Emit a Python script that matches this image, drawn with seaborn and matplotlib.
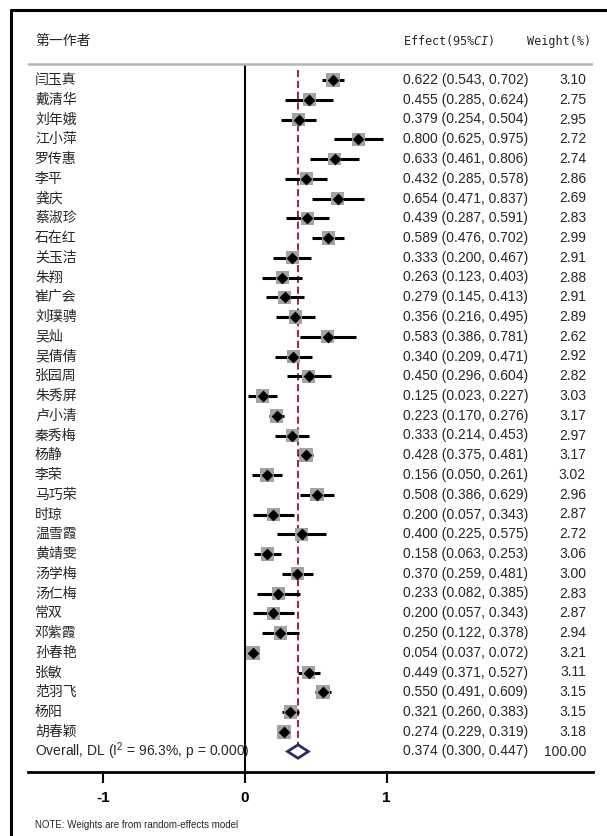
import matplotlib
matplotlib.use("Agg")
import matplotlib.pyplot as plt
from matplotlib.lines import Line2D
from matplotlib.patches import Polygon
import pandas as pd
import seaborn as sns


# study data
authors = ["闫玉真", "戴清华", "刘年娥", "江小萍", "罗传惠", "李平", "龚庆", "蔡淑珍",
           "石在红", "关玉洁", "朱翔", "崔广会", "刘璞骋", "吴灿", "吴倩倩", "张园周",
           "朱秀屏", "卢小清", "秦秀梅", "杨静", "李荣", "马巧荣", "时琼", "温雪霞",
           "黄靖雯", "汤学梅", "汤仁梅", "常双", "邓紫霞", "孙春艳", "张敏", "范羽飞",
           "杨阳", "胡春颖"]
effect = [0.622, 0.455, 0.379, 0.800, 0.633, 0.432, 0.654, 0.439, 0.589, 0.333,
          0.263, 0.279, 0.356, 0.583, 0.340, 0.450, 0.125, 0.223, 0.333, 0.428,
          0.156, 0.508, 0.200, 0.400, 0.158, 0.370, 0.233, 0.200, 0.250, 0.054,
          0.449, 0.550, 0.321, 0.274]
ci_low = [0.543, 0.285, 0.254, 0.625, 0.461, 0.285, 0.471, 0.287, 0.476, 0.200,
          0.123, 0.145, 0.216, 0.386, 0.209, 0.296, 0.023, 0.170, 0.214, 0.375,
          0.050, 0.386, 0.057, 0.225, 0.063, 0.259, 0.082, 0.057, 0.122, 0.037,
          0.371, 0.491, 0.260, 0.229]
ci_high = [0.702, 0.624, 0.504, 0.975, 0.806, 0.578, 0.837, 0.591, 0.702, 0.467,
           0.403, 0.413, 0.495, 0.781, 0.471, 0.604, 0.227, 0.276, 0.453, 0.481,
           0.261, 0.629, 0.343, 0.575, 0.253, 0.481, 0.385, 0.343, 0.378, 0.072,
           0.527, 0.609, 0.383, 0.319]
weight = [3.10, 2.75, 2.95, 2.72, 2.74, 2.86, 2.69, 2.83, 2.99, 2.91,
          2.88, 2.91, 2.89, 2.62, 2.92, 2.82, 3.03, 3.17, 2.97, 3.17,
          3.02, 2.96, 2.87, 2.72, 3.06, 3.00, 2.83, 2.87, 2.94, 3.21,
          3.11, 3.15, 3.15, 3.18]

overall_est = 0.374
overall_low = 0.300
overall_high = 0.447
overall_weight = 100.00
i_squared = 96.3
p_value = 0.000
x_ticks = [-1, 0, 1]

df = pd.DataFrame({"author": authors, "effect": effect, "lo": ci_low,
                   "hi": ci_high, "weight": weight})
df["row"] = range(len(df))
overall_row = len(df)

sns.set_style("white")
plt.rcParams["font.family"] = ["Liberation Sans", "Noto Sans CJK SC", "DejaVu Sans"]
plt.rcParams["mathtext.fontset"] = "custom"
plt.rcParams["mathtext.rm"] = "Liberation Sans"
plt.rcParams["mathtext.it"] = "DejaVu Sans Mono:italic"

# layout in pixels of the 607x836 image
W, H = 607, 836
ROW0, PITCH = 80, 19.75
AX_L, AX_R, AX_T, AX_B = 28, 593, 20, 772


def row_of(py):
    return (py - ROW0) / PITCH


def xfrac(px):
    return (px - AX_L) / (AX_R - AX_L)


fig = plt.figure(figsize=(W / 100, H / 100), dpi=100)
ax = fig.add_axes([AX_L / W, 1 - AX_B / H, (AX_R - AX_L) / W, (AX_B - AX_T) / H])
ax.set_xlim((AX_L - 245) / 141.7, (AX_R - 245) / 141.7)
ax.set_ylim(row_of(AX_B), row_of(AX_T))

# confidence intervals
ax.hlines(df["row"], df["lo"], df["hi"], color="black", lw=2.2, zorder=2)

# weight boxes (area ~ weight)
k = 31.0
sns.scatterplot(data=df, x="effect", y="row", size="weight",
                sizes=(k * min(weight), k * max(weight)),
                size_norm=(min(weight), max(weight)),
                marker="s", color="#a3a3a3", linewidth=0, legend=False,
                ax=ax, zorder=3)
# point estimates
sns.scatterplot(data=df, x="effect", y="row", marker="D", s=36,
                color="black", linewidth=0, legend=False, ax=ax, zorder=4)

# pooled estimate diamond
dh = 0.34
ax.add_patch(Polygon([(overall_low, overall_row), (overall_est, overall_row - dh),
                      (overall_high, overall_row), (overall_est, overall_row + dh)],
                     closed=True, fill=False, edgecolor="#2e2a6b", lw=2, zorder=5))

# reference lines
ax.vlines(overall_est, row_of(70), overall_row - dh, color="#9b2d3f",
          lw=1.5, ls=(0, (3.4, 1.8)), zorder=1)
ax.vlines(0, row_of(64), row_of(AX_B), color="black", lw=1.5, zorder=1)
ax.axhline(row_of(64), color="#b5b5b5", lw=1.8)

# axis styling
for side in ["left", "top", "right"]:
    ax.spines[side].set_visible(False)
ax.spines["bottom"].set_linewidth(2)
ax.spines["bottom"].set_color("black")
ax.set_xticks(x_ticks)
ax.set_xticklabels([str(t) for t in x_ticks], fontweight="bold")
ax.set_yticks([])
ax.tick_params(axis="x", direction="out", length=8, width=1.5, pad=6,
               labelsize=11, colors="black", bottom=True)
ax.set_xlabel("")
ax.set_ylabel("")

# table text
tr = ax.get_yaxis_transform()
cjk = ["Noto Sans CJK SC", "DejaVu Sans"]
ax.text(xfrac(35), row_of(41), "第一作者", transform=tr, family=cjk,
        fontsize=10, va="center", ha="left")
ax.text(xfrac(403), row_of(41), r"Effect(95%$\mathit{CI}$)", transform=tr,
        family="DejaVu Sans Mono", fontsize=8.5, va="center", ha="left")
ax.text(xfrac(591), row_of(41), "Weight(%)", transform=tr,
        family="DejaVu Sans Mono", fontsize=8.5, va="center", ha="right")

for _, r in df.iterrows():
    ax.text(xfrac(35), r["row"], r["author"], transform=tr, family=cjk,
            fontsize=10, fontweight="medium", va="center", ha="left")
    ax.text(xfrac(403), r["row"], f"{r['effect']:.3f} ({r['lo']:.3f}, {r['hi']:.3f})",
            transform=tr, fontsize=10, va="center", ha="left")
    ax.text(xfrac(586), r["row"], f"{r['weight']:.2f}", transform=tr,
            fontsize=10, va="center", ha="right")

ax.text(xfrac(35), overall_row,
        rf"Overall, DL (I$^2$ = {i_squared:.1f}%, p = {p_value:.3f})",
        transform=tr, fontsize=10, va="center", ha="left")
ax.text(xfrac(403), overall_row,
        f"{overall_est:.3f} ({overall_low:.3f}, {overall_high:.3f})",
        transform=tr, fontsize=10, va="center", ha="left")
ax.text(xfrac(586), overall_row, f"{overall_weight:.2f}", transform=tr,
        fontsize=10, va="center", ha="right")

fig.text(35 / W, 1 - 825 / H, "NOTE: Weights are from random-effects model",
         fontsize=7, va="center", ha="left")

# outer frame (top and left edges only, image is cropped)
fig.add_artist(Line2D([11 / W, 11 / W], [0, 1 - 10 / H], transform=fig.transFigure,
                      color="black", lw=2.2))
fig.add_artist(Line2D([11 / W, 1], [1 - 10 / H, 1 - 10 / H], transform=fig.transFigure,
                      color="black", lw=2.2))

fig.savefig("out.png", dpi=100)
